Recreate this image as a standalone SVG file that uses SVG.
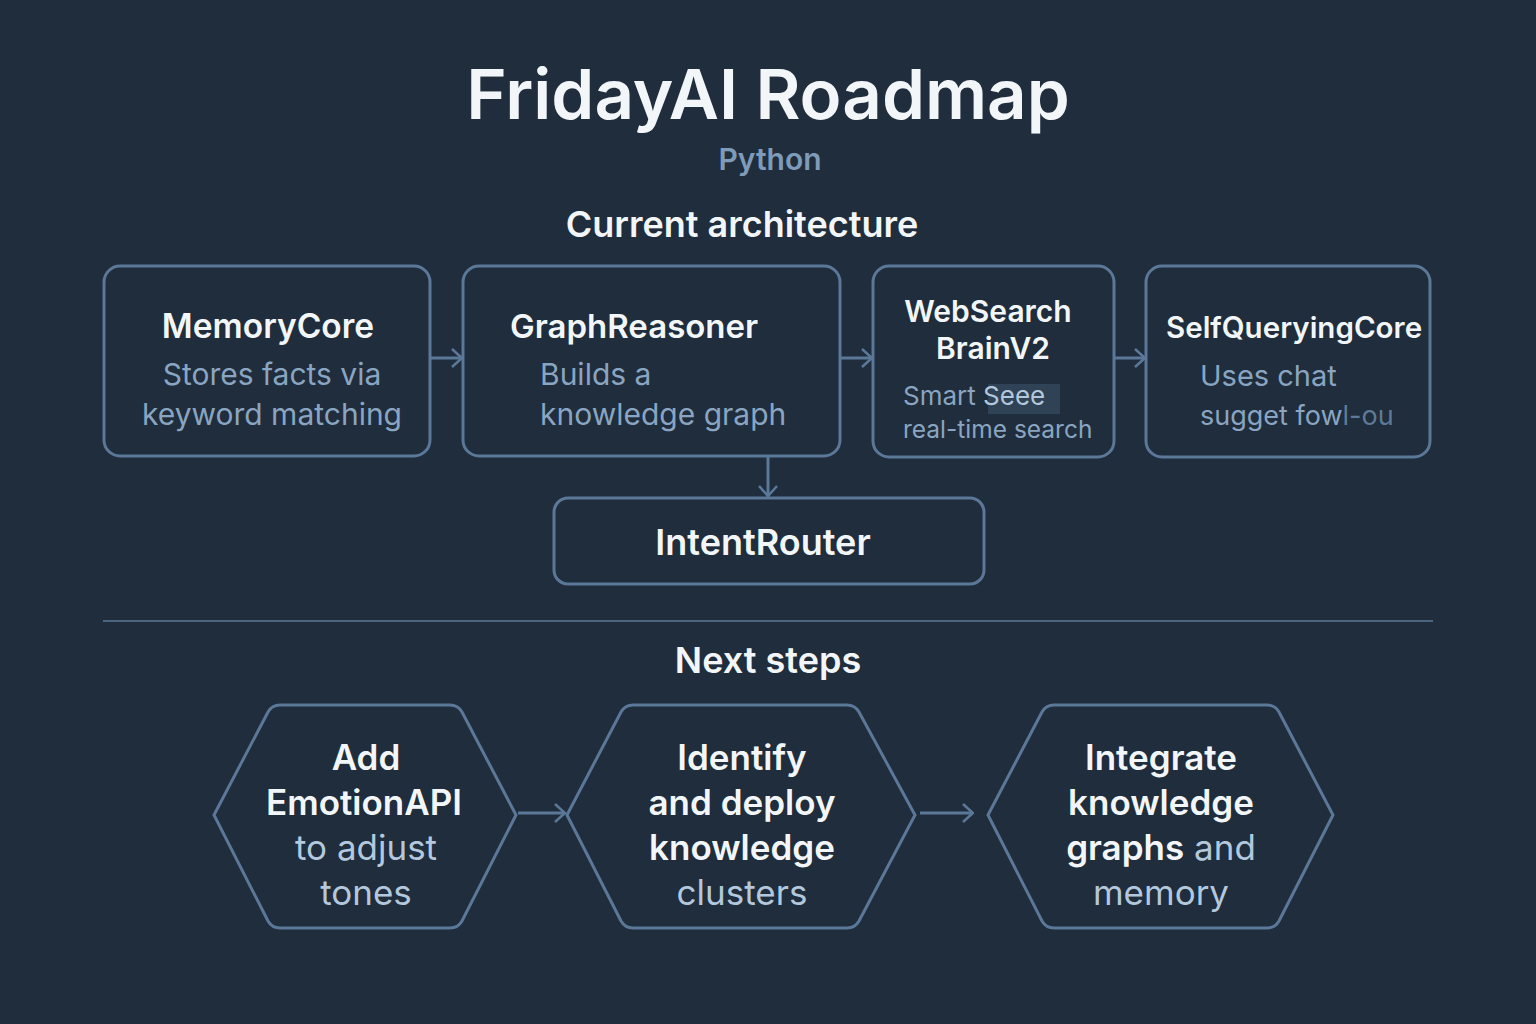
<svg xmlns="http://www.w3.org/2000/svg" width="1536" height="1024" viewBox="0 0 1536 1024">
<defs>
<style>
.t{font-family:Inter,"Noto Sans","DejaVu Sans",sans-serif}
.box{fill:#1f2d3c;stroke:#5b7899;stroke-width:3}
.ttl{fill:#f3f6f9;font-weight:600}
.dsc{fill:#8aa5c1;font-weight:400}
.hb{fill:#f3f6f9;font-weight:600;font-size:35px}
.hl{fill:#b3c8dc;font-weight:400;font-size:35px}
.con{stroke:#5b7899;stroke-width:3;fill:none}
</style>
<marker id="ah" viewBox="0 0 12 20" refX="11" refY="10" markerWidth="12" markerHeight="20" markerUnits="userSpaceOnUse" orient="auto">
<path d="M1,1 L11,10 L1,19" fill="none" stroke="#5b7899" stroke-width="2.6"/>
</marker>
</defs>
<rect width="1536" height="1024" fill="#1f2d3c"/>
<g id="header" class="t">
<text x="768" y="119" text-anchor="middle" font-size="69" font-weight="600" fill="#f3f6f9">FridayAI Roadmap</text>
<text x="770" y="170" text-anchor="middle" font-size="30" font-weight="600" fill="#7f9bba">Python</text>
<text x="742" y="237" text-anchor="middle" font-size="36" font-weight="600" fill="#f3f6f9">Current architecture</text>
<text x="768" y="673" text-anchor="middle" font-size="36" font-weight="600" fill="#f3f6f9">Next steps</text>
</g>
<g id="connectors">
<path class="con" d="M430,358 H462" marker-end="url(#ah)"/>
<path class="con" d="M840,358 H872" marker-end="url(#ah)"/>
<path class="con" d="M1114,358 H1145" marker-end="url(#ah)"/>
<path class="con" d="M768,456 V496" marker-end="url(#ah)"/>
<path class="con" d="M518,813 H565" marker-end="url(#ah)"/>
<path class="con" d="M920,813 H973" marker-end="url(#ah)"/>
<line x1="103" y1="621" x2="1433" y2="621" stroke="#4a6582" stroke-width="2"/>
</g>
<g id="memorycore" class="t">
<rect class="box" x="104" y="266" width="326" height="190" rx="16"/>
<text class="ttl" x="268" y="338" text-anchor="middle" font-size="33.5">MemoryCore</text>
<text class="dsc" x="272" y="385" text-anchor="middle" font-size="30">Stores facts via</text>
<text class="dsc" x="272" y="425" text-anchor="middle" font-size="30">keyword matching</text>
</g>
<g id="graphreasoner" class="t">
<rect class="box" x="463" y="266" width="377" height="190" rx="16"/>
<text class="ttl" x="510" y="338" font-size="33">GraphReasoner</text>
<text class="dsc" x="540" y="385" font-size="30">Builds a</text>
<text class="dsc" x="540" y="425" font-size="30">knowledge graph</text>
</g>
<g id="websearch" class="t">
<rect class="box" x="873" y="266" width="241" height="191" rx="16"/>
<text class="ttl" x="988" y="322" text-anchor="middle" font-size="30">WebSearch</text>
<text class="ttl" x="993" y="359" text-anchor="middle" font-size="30">BrainV2</text>
<rect x="988" y="384" width="72" height="30" fill="#3a5068" opacity="0.6"/>
<text class="dsc" x="903" y="405" font-size="26">Smart <tspan fill="#b3c8dc">Seee</tspan></text>
<text class="dsc" x="903" y="438" font-size="24.5">real-time search</text>
</g>
<g id="selfqueryingcore" class="t">
<rect class="box" x="1146" y="266" width="284" height="191" rx="16"/>
<text class="ttl" x="1166" y="338" font-size="29.5">SelfQueryingCore</text>
<text class="dsc" x="1200" y="386" font-size="29">Uses chat</text>
<text class="dsc" x="1200" y="425" font-size="27">sugget fow<tspan fill="#5e7a96">l-ou</tspan></text>
</g>
<g id="intentrouter" class="t">
<rect class="box" x="554" y="498" width="430" height="86" rx="14"/>
<text class="ttl" x="763" y="555" text-anchor="middle" font-size="36">IntentRouter</text>
</g>
<g id="step1" class="t">
<path class="box" d="M214,815 L268,712 Q272,705 280,705 L450,705 Q458,705 462,712 L516,815 L462,921 Q458,928 450,928 L280,928 Q272,928 268,921 Z"/>
<text class="hb" x="366" y="770" text-anchor="middle">Add</text>
<text class="hb" x="364" y="815" text-anchor="middle">EmotionAPI</text>
<text class="hl" x="366" y="860" text-anchor="middle">to adjust</text>
<text class="hl" x="366" y="905" text-anchor="middle">tones</text>
</g>
<g id="step2" class="t">
<path class="box" d="M567,815 L621,712 Q625,705 633,705 L847,705 Q855,705 859,712 L915,815 L859,921 Q855,928 847,928 L633,928 Q625,928 621,921 Z"/>
<text class="hb" x="742" y="770" text-anchor="middle">Identify</text>
<text class="hb" x="742" y="815" text-anchor="middle">and deploy</text>
<text class="hb" x="742" y="860" text-anchor="middle">knowledge</text>
<text class="hl" x="742" y="905" text-anchor="middle">clusters</text>
</g>
<g id="step3" class="t">
<path class="box" d="M988,815 L1042,712 Q1046,705 1054,705 L1267,705 Q1275,705 1279,712 L1333,815 L1279,921 Q1275,928 1267,928 L1054,928 Q1046,928 1042,921 Z"/>
<text class="hb" x="1161" y="770" text-anchor="middle">Integrate</text>
<text class="hb" x="1161" y="815" text-anchor="middle">knowledge</text>
<text x="1161" y="860" text-anchor="middle"><tspan class="hb">graphs</tspan><tspan class="hl"> and</tspan></text>
<text class="hl" x="1161" y="905" text-anchor="middle">memory</text>
</g>
</svg>
